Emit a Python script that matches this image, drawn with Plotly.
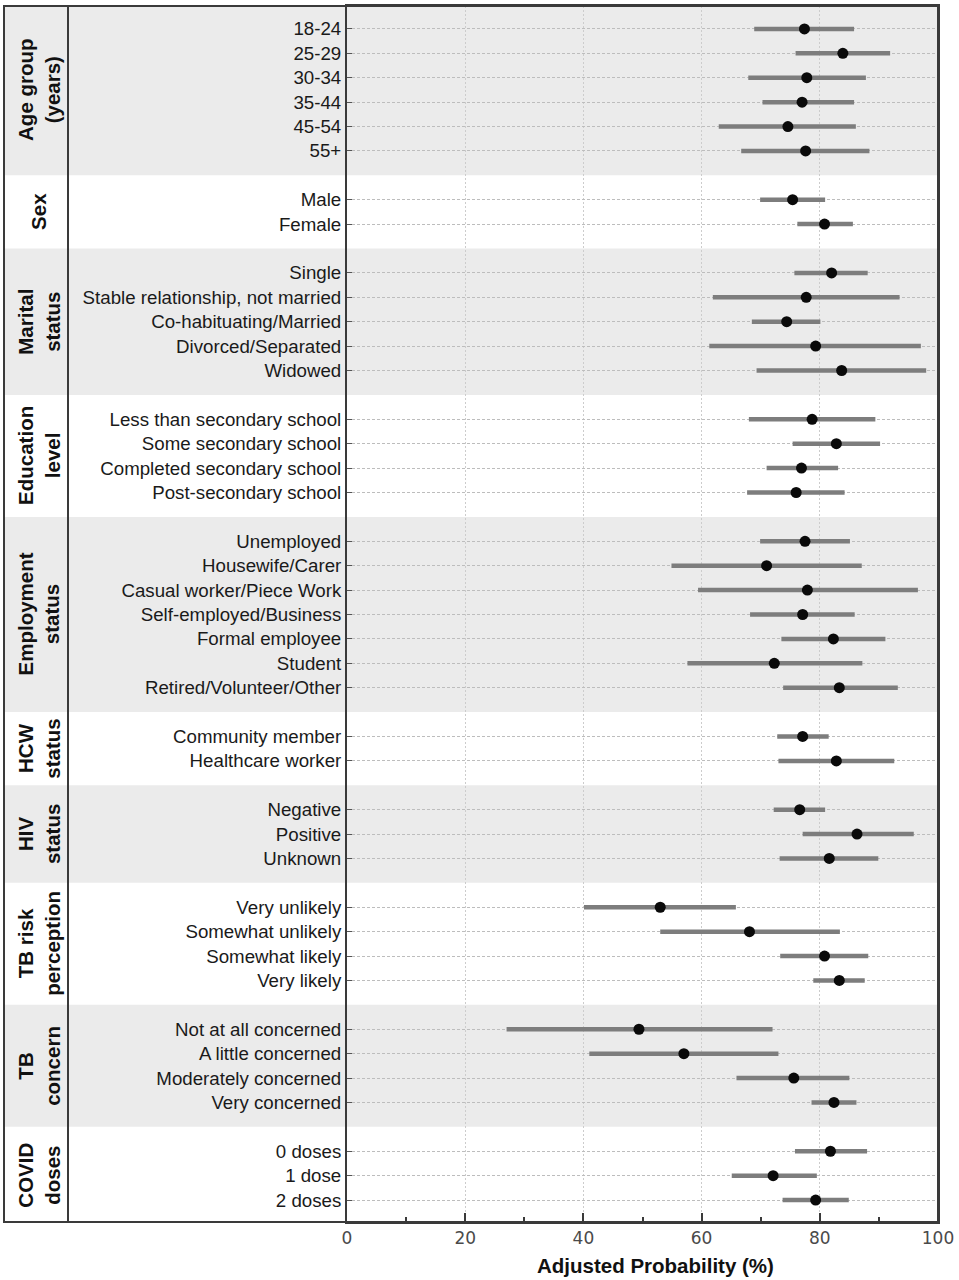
import plotly.graph_objects as go

# ---------------- data ----------------
group_names = ["Age group<br>(years)", "Sex", "Marital<br>status", "Education<br>level",
               "Employment<br>status", "HCW<br>status", "HIV<br>status",
               "TB risk<br>perception", "TB<br>concern", "COVID<br>doses"]
group_sizes = [6, 2, 5, 4, 7, 2, 3, 4, 4, 3]

categories = ["18-24", "25-29", "30-34", "35-44", "45-54", "55+",
              "Male", "Female",
              "Single", "Stable relationship, not married", "Co-habituating/Married",
              "Divorced/Separated", "Widowed",
              "Less than secondary school", "Some secondary school",
              "Completed secondary school", "Post-secondary school",
              "Unemployed", "Housewife/Carer", "Casual worker/Piece Work",
              "Self-employed/Business", "Formal employee", "Student",
              "Retired/Volunteer/Other",
              "Community member", "Healthcare worker",
              "Negative", "Positive", "Unknown",
              "Very unlikely", "Somewhat unlikely", "Somewhat likely", "Very likely",
              "Not at all concerned", "A little concerned", "Moderately concerned",
              "Very concerned",
              "0 doses", "1 dose", "2 doses"]

estimate = [77.4, 83.9, 77.8, 77.0, 74.6, 77.6,
            75.4, 80.8,
            82.0, 77.7, 74.4, 79.3, 83.7,
            78.7, 82.8, 76.9, 76.0,
            77.5, 71.0, 77.9, 77.1, 82.3, 72.3, 83.3,
            77.1, 82.8,
            76.6, 86.3, 81.6,
            53.0, 68.1, 80.8, 83.3,
            49.4, 57.0, 75.6, 82.4,
            81.8, 72.1, 79.3]

lower = [68.9, 75.9, 67.9, 70.3, 62.9, 66.7,
         69.9, 76.2,
         75.7, 61.9, 68.5, 61.3, 69.3,
         68.0, 75.4, 71.0, 67.7,
         69.9, 54.9, 59.4, 68.2, 73.5, 57.6, 73.8,
         72.8, 73.0,
         72.2, 77.1, 73.2,
         40.1, 53.0, 73.3, 78.9,
         27.0, 41.0, 65.9, 78.6,
         75.8, 65.1, 73.7]

upper = [85.8, 91.9, 87.8, 85.8, 86.1, 88.4,
         80.9, 85.6,
         88.1, 93.5, 80.1, 97.1, 98.0,
         89.4, 90.2, 83.1, 84.2,
         85.1, 87.1, 96.6, 85.9, 91.1, 87.2, 93.2,
         81.5, 92.6,
         80.9, 95.9, 89.9,
         65.8, 83.4, 88.2, 87.6,
         72.0, 73.0, 85.0, 86.2,
         88.0, 79.5, 84.9]

x_ticks = [0, 20, 40, 60, 80, 100]
x_title = "Adjusted Probability (%)"

# ---------------- layout helpers ----------------
W, H = 959, 1280
L, R, T, B = 347, 21, 4, 58
plot_w = W - L - R
plot_h = H - T - B
left_edge = (4 - L) / plot_w
divider = (68 - L) / plot_w
label_x = (39 - L) / plot_w

positions = []
bands = []
c = 0
for n in group_sizes:
    positions.extend([c + i + 1 for i in range(n)])
    bands.append((c, c + n + 1))
    c += n + 1
total = c
y_top, y_bot = 0.06, total - 0.1

fig = go.Figure()

fig.add_trace(go.Scatter(
    x=estimate, y=positions, mode="markers",
    marker=dict(color="#0a0a0a", size=11),
    error_x=dict(type="data", symmetric=False,
                 array=[u - e for u, e in zip(upper, estimate)],
                 arrayminus=[e - l for e, l in zip(estimate, lower)],
                 color="#7d7d7d", thickness=4.5, width=0),
    showlegend=False, hoverinfo="skip"))

shapes = []
for i, (y0, y1) in enumerate(bands):
    if i % 2 == 0:
        shapes.append(dict(type="rect", xref="paper", yref="y",
                           x0=left_edge, x1=1, y0=max(y0, y_top), y1=min(y1, y_bot),
                           fillcolor="#ebebeb", line=dict(width=0), layer="below"))
# outer box and divider
shapes.append(dict(type="rect", xref="paper", yref="paper", x0=left_edge, x1=1, y0=0, y1=1,
                   line=dict(color="#3a3a3a", width=2), fillcolor="rgba(0,0,0,0)", layer="above"))
shapes.append(dict(type="line", xref="paper", yref="paper", x0=divider, x1=divider, y0=0, y1=1,
                   line=dict(color="#3a3a3a", width=2), layer="above"))

annotations = []
for name, (y0, y1) in zip(group_names, bands):
    annotations.append(dict(xref="paper", yref="y", x=label_x, y=(y0 + y1) / 2,
                            text="<b>" + name + "</b>", textangle=-90, showarrow=False,
                            font=dict(family="Liberation Sans, Arial, sans-serif", size=20.5, color="#111"),
                            xanchor="center", yanchor="middle"))
annotations.append(dict(xref="paper", yref="paper", x=(655 - L) / plot_w, y=-(1266 - (H - B)) / plot_h,
                        text="<b>" + x_title + "</b>", showarrow=False,
                        font=dict(family="Liberation Sans, Arial, sans-serif", size=20.5, color="#111"),
                        xanchor="center", yanchor="middle"))

fig.update_layout(
    width=W, height=H,
    margin=dict(l=L, r=R, t=T, b=B),
    paper_bgcolor="white", plot_bgcolor="rgba(0,0,0,0)",
    shapes=shapes, annotations=annotations,
    font=dict(family="Liberation Sans, Arial, sans-serif"),
)

fig.update_xaxes(
    range=[0, 100], tickvals=x_ticks, ticktext=[str(v) for v in x_ticks],
    showgrid=True, gridcolor="#cccccc", griddash="2px,2px", gridwidth=1,
    zeroline=False, showline=True, linecolor="#3a3a3a", linewidth=2, mirror=True,
    ticks="inside", ticklen=9, tickwidth=1.5, tickcolor="#3a3a3a",
    minor=dict(dtick=10, ticks="inside", ticklen=5, tickwidth=1.5, tickcolor="#3a3a3a", showgrid=False),
    tickfont=dict(family="DejaVu Sans", size=17, color="#4a4a4a"),
)

fig.update_yaxes(
    range=[y_bot, y_top], tickvals=positions, ticktext=categories,
    showgrid=True, gridcolor="#bdbdbd", griddash="3px,2px", gridwidth=1,
    zeroline=False, showline=True, linecolor="#3a3a3a", linewidth=2, mirror=True,
    ticks="inside", ticklen=5, tickwidth=1, tickcolor="#555",
    tickfont=dict(family="Liberation Sans, Arial, sans-serif", size=18.7, color="#1a1a1a"),
)

fig.write_html("out.html", config={"displayModeBar": False},
               post_script="document.body.style.margin='0px';")
